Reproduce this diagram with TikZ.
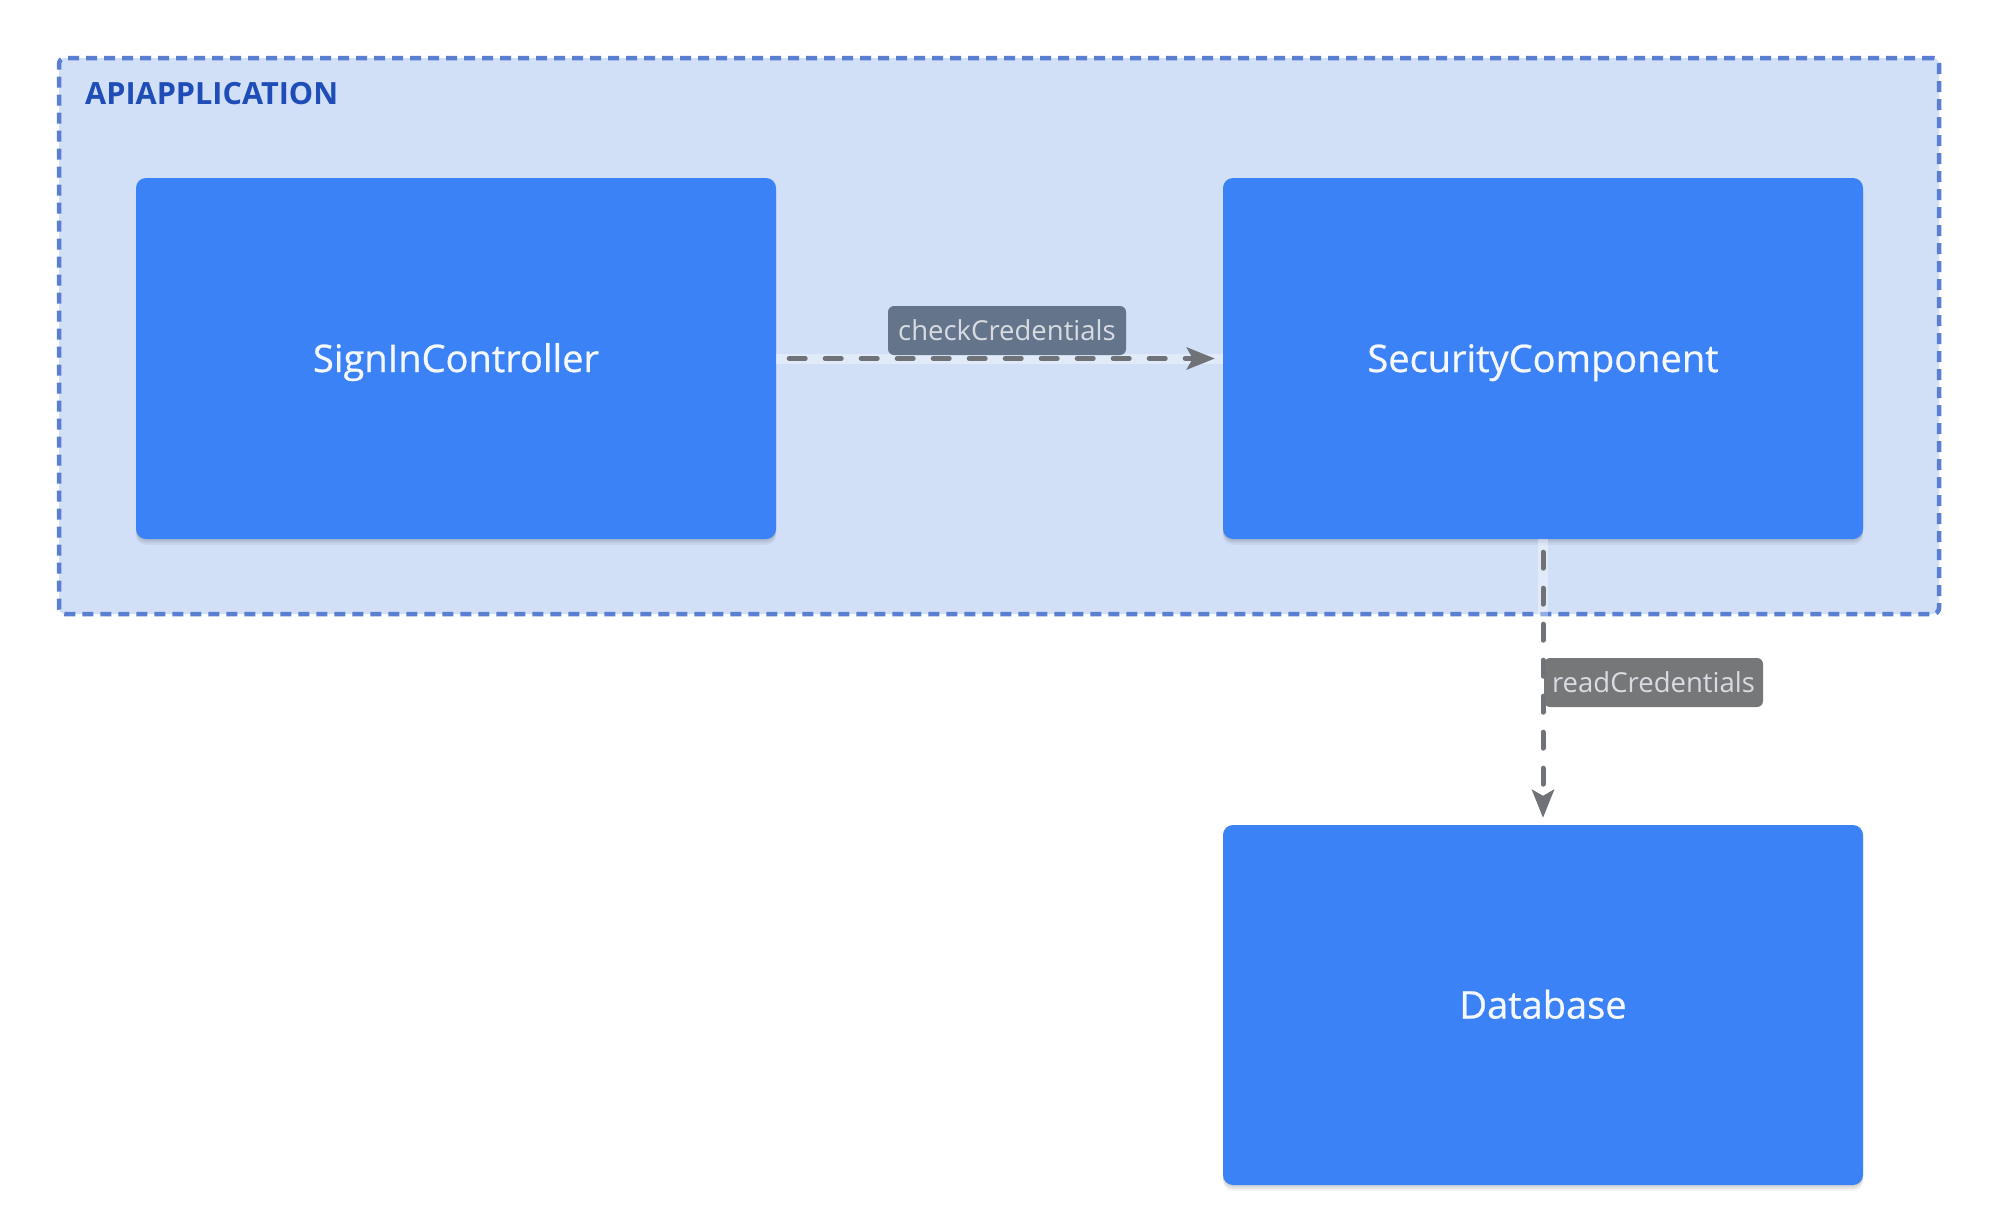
\documentclass[tikz,border=0pt]{standalone}
\usepackage{fontspec}
\setmainfont{Open Sans}
\newfontfamily\compfont[FakeBold=0.7]{Open Sans}
\usetikzlibrary{arrows.meta,shadows}
\definecolor{bgfill}{HTML}{D1DFF7}
\definecolor{bgline}{HTML}{5A7FD2}
\definecolor{bgtext}{HTML}{1E4DB7}
\definecolor{boxfill}{HTML}{3B82F6}
\definecolor{boxtext}{HTML}{F5F8FF}
\definecolor{lab1fill}{HTML}{64748B}
\definecolor{lab2fill}{HTML}{767779}
\definecolor{labtext}{HTML}{D8DCE2}
\definecolor{connc}{HTML}{6F7377}
\tikzset{
  container/.style={draw=bgline, fill=bgfill, line width=4.5pt, dash pattern=on 11pt off 7pt, rounded corners=6pt, minimum width=1880pt, minimum height=556pt, inner sep=0pt},
  comp/.style={fill=boxfill, rounded corners=10pt, minimum width=640pt, inner sep=0pt, text=boxtext,
    font=\compfont\fontsize{38}{42}\selectfont, text height=27pt, text depth=0pt,
    drop shadow={shadow xshift=0pt, shadow yshift=-2pt, opacity=0.07, fill=black},
    drop shadow={shadow xshift=0pt, shadow yshift=-4pt, opacity=0.06, fill=black},
    drop shadow={shadow xshift=0pt, shadow yshift=-6pt, opacity=0.04, fill=black}},
  edgelab/.style={rounded corners=6pt, inner sep=0pt, minimum height=49pt, text=labtext,
    font=\fontsize{27.5}{31}\selectfont, text height=20pt, text depth=0pt},
  halo/.style={draw=white, line width=10pt, opacity=0.35},
  conn/.style={draw=connc, line width=5pt, line cap=round, dash pattern=on 16pt off 20pt,
    -{Stealth[length=28pt, width=22pt, inset=6pt, fill=connc]}},
}
\begin{document}
\begin{tikzpicture}[x=1pt,y=-1pt]
\useasboundingbox[fill=white] (0,0) rectangle (1998,1224);
\node[container] (app) at (999,336) {};
\node[anchor=base west, text=bgtext, font=\bfseries\fontsize{30.6}{34}\selectfont, inner sep=0pt] (applabel) at (85,104) {APIAPPLICATION};

\node[comp, minimum height=361pt] (sign) at (456,358.5) {SignInController};
\node[comp, minimum height=361pt] (sec) at (1543,358.5) {SecurityComponent};
\node[comp, minimum height=360pt] (db) at (1543,1005) {Database};

\draw[halo] (sign.east) -- (sec.west);
\draw[halo] (sec.south) -- (db.north);

\node[edgelab, fill=lab1fill, minimum width=238pt] (lab1) at (1007,330.5) {checkCredentials};
\node[edgelab, fill=lab2fill, minimum width=219pt] (lab2) at (1653.5,682.5) {readCredentials};

\draw[conn, shorten <=13pt, shorten >=8pt] (sign.east) -- (sec.west);
\draw[conn, shorten <=13pt, shorten >=7pt] (sec.south) -- (db.north);
\end{tikzpicture}
\end{document}
